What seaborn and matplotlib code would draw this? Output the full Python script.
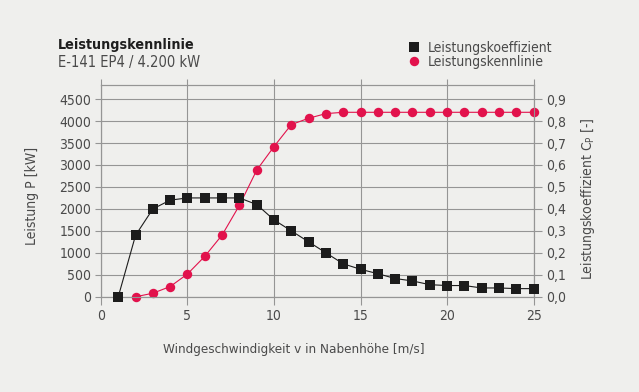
import matplotlib
matplotlib.use("Agg")
import matplotlib.pyplot as plt
import seaborn as sns
import pandas as pd
from matplotlib.lines import Line2D
from matplotlib.ticker import FuncFormatter
from matplotlib import font_manager

# data
wind_cp = list(range(1, 26))
cp_values = [0.0, 0.28, 0.40, 0.44, 0.45, 0.45, 0.45, 0.45, 0.42, 0.35,
             0.30, 0.25, 0.20, 0.15, 0.125, 0.105, 0.083, 0.072, 0.055, 0.051,
             0.051, 0.04, 0.04, 0.037, 0.037]
wind_power = list(range(2, 26))
power_values = [0, 80, 232, 518, 920, 1405, 2080, 2882, 3420, 3920, 4064, 4170,
                4200, 4200, 4200, 4200, 4200, 4200, 4200, 4200, 4200, 4200, 4200, 4200]

bg = '#efefed'
text_col = '#4a4a4a'
grid_col = '#959595'
red = '#e2124c'
black = '#1c1c1c'

sns.set_style('white')
names = {f.name for f in font_manager.fontManager.ttflist}
narrow = [n for n in ['Liberation Sans Narrow', 'DejaVu Sans Condensed'] if n in names]
plt.rcParams['font.family'] = narrow + ['DejaVu Sans']
plt.rcParams['font.stretch'] = 'condensed'

fig = plt.figure(figsize=(6.39, 3.92), dpi=100, facecolor=bg)
ax = fig.add_axes([0.158, 0.243, 0.677, 0.540], facecolor=bg)

top_kw = 4820
df_p = pd.DataFrame({'v': wind_power, 'P': power_values})
df_c = pd.DataFrame({'v': wind_cp, 'cp': cp_values})

sns.lineplot(data=df_p, x='v', y='P', ax=ax, color=red, lw=0.8, marker='o',
             markersize=6.8, markeredgewidth=0, markerfacecolor=red, clip_on=False, zorder=3)
ax.set_xlim(0, 25)
ax.set_ylim(0, top_kw)
ax.set_yticks(range(0, 4501, 500))
ax.set_xticks(range(0, 26, 5))
ax.grid(True, color=grid_col, lw=0.8)
ax.set_axisbelow(True)

ax2 = ax.twinx()
sns.lineplot(data=df_c, x='v', y='cp', ax=ax2, color=black, lw=0.8, marker='s',
             markersize=7.5, markeredgewidth=0, markerfacecolor=black, clip_on=False, zorder=4)
ax2.set_ylim(0, 0.9 * top_kw / 4500)
ax2.set_yticks([i / 10 for i in range(10)])
ax2.yaxis.set_major_formatter(FuncFormatter(lambda x, _: f'{x:.1f}'.replace('.', ',')))

for a in (ax, ax2):
    a.set_xlabel('')
    a.set_ylabel('')
    for s in a.spines.values():
        s.set_color(grid_col)
        s.set_linewidth(0.8)

fs = 10
ax.tick_params(axis='y', left=True, direction='out', length=4, width=0.8, color=grid_col,
               labelsize=fs, labelcolor=text_col, pad=3)
ax.tick_params(axis='x', bottom=True, top=True, direction='out', length=6, width=0.8,
               color=grid_col, labelsize=fs, labelcolor=text_col, pad=3)
for t in ax.xaxis.get_major_ticks():
    t.tick2line.set_markersize(4)
ax2.tick_params(axis='y', right=True, direction='out', length=6, width=0.8, color=grid_col,
                labelsize=fs, labelcolor=text_col, pad=3)

# axis titles
fig.text(32 / 639, 1 - 196 / 392, 'Leistung P [kW]', rotation=90, ha='center', va='center',
         fontsize=fs, color=text_col)
fig.text(588 / 639, 1 - 199 / 392, 'Leistungskoeffizient C$_\\mathregular{P}$ [-]', rotation=90,
         ha='center', va='center', fontsize=fs, color=text_col)
fig.text(294 / 639, 1 - 350 / 392, 'Windgeschwindigkeit v in Nabenhöhe [m/s]', ha='center',
         va='center', fontsize=9.6, color=text_col)

# heading
fig.text(58 / 639, 1 - 45 / 392, 'Leistungskennlinie', ha='left', va='center', fontsize=10.3,
         fontweight='bold', color='#1e1e1e')
fig.text(58 / 639, 1 - 63 / 392, 'E-141 EP4 / 4.200 kW', ha='left', va='center', fontsize=10.5,
         color=text_col)

# legend
handles = [Line2D([], [], ls='none', marker='s', markersize=7.5, color=black, markeredgewidth=0),
           Line2D([], [], ls='none', marker='o', markersize=6.8, color=red, markeredgewidth=0)]
leg = fig.legend(handles, ['Leistungskoeffizient', 'Leistungskennlinie'], loc='upper left',
                 bbox_to_anchor=(400 / 639, 1 - 34 / 392), frameon=False, fontsize=fs,
                 handlelength=1.0, handletextpad=0.5, labelspacing=0.0, borderpad=0)
for t in leg.get_texts():
    t.set_color(text_col)

fig.savefig('out.png', dpi=100, facecolor=bg)
